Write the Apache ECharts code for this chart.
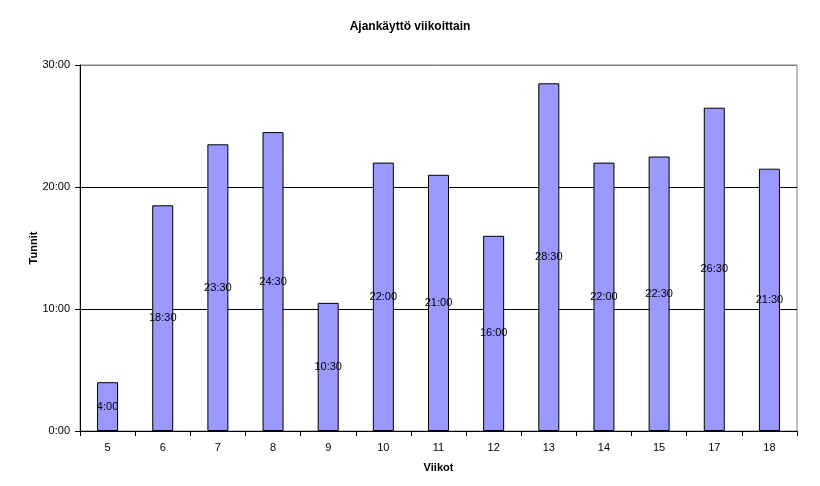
<!DOCTYPE html>
<html><head><meta charset="utf-8">
<script src="https://cdn.jsdelivr.net/npm/echarts@6/dist/echarts.min.js"></script>
<style>html,body{margin:0;padding:0;background:#fff}#c{width:820px;height:486px}</style>
</head><body><div id="c"></div>
<script>
var weeks = ['5','6','7','8','9','10','11','12','13','14','15','17','18'];
var hours = [4, 18.5, 23.5, 24.5, 10.5, 22, 21, 16, 28.5, 22, 22.5, 26.5, 21.5];
var yTicks = [0, 10, 20, 30];

function fmt(v){
  var h = Math.floor(v); var m = Math.round((v - h) * 60);
  return h + ':' + (m < 10 ? '0' : '') + m;
}
var chart = echarts.init(document.getElementById('c'), null, {renderer:'canvas'});
chart.setOption({
  backgroundColor:'#fff',
  animation:false,
  title:{text:'Ajankäyttö viikoittain', left:'center', top:16,
    textStyle:{fontFamily:'Liberation Sans, Arial', fontSize:12, fontWeight:'bold', color:'#000'}},
  grid:{left:80, right:23, top:65, bottom:55, show:true, borderColor:'#808080', borderWidth:1, containLabel:false},
  xAxis:{type:'category', data:weeks, name:'Viikot', nameLocation:'middle', nameGap:31,
    nameTextStyle:{fontFamily:'Liberation Sans, Arial', fontSize:11, fontWeight:'bold', color:'#000'},
    axisLine:{lineStyle:{color:'#000', width:1}},
    axisTick:{show:true, alignWithLabel:false, length:5, lineStyle:{color:'#000'}},
    axisLabel:{fontFamily:'Liberation Sans, Arial', fontSize:11, color:'#000', margin:11},
    splitLine:{show:false}},
  yAxis:{type:'value', min:0, max:30, interval:10, name:'Tunnit', nameLocation:'middle', nameGap:41, nameRotate:90,
    nameMoveOverlap:false,
    nameTextStyle:{fontFamily:'Liberation Sans, Arial', fontSize:11, fontWeight:'bold', color:'#000'},
    axisLine:{show:true, lineStyle:{color:'#000', width:1}},
    axisTick:{show:true, length:5, lineStyle:{color:'#000'}},
    axisLabel:{fontFamily:'Liberation Sans, Arial', fontSize:11, color:'#000', margin:10,
      formatter:function(v){ return yTicks.indexOf(v) >= 0 ? fmt(v) : ''; }},
    splitLine:{show:true, lineStyle:{color:['#000','#000','#000','#808080'], width:1}}},
  series:[{type:'bar', data:hours, barWidth:21,
    itemStyle:{color:'#9999FF', borderColor:'#000', borderWidth:1},
    label:{show:true, position:'inside', color:'#000', fontFamily:'Liberation Sans, Arial', fontSize:11,
      formatter:function(p){ return fmt(p.value); }}}]
});
</script></body></html>
